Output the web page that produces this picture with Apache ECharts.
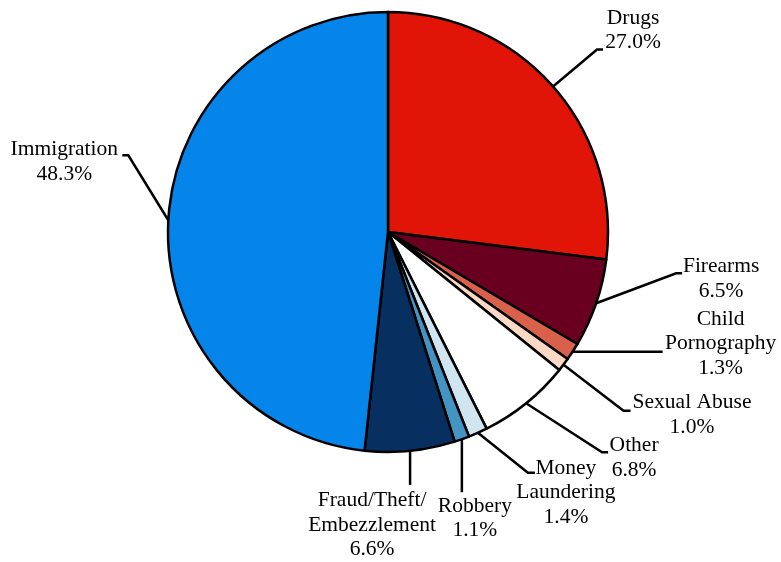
<!DOCTYPE html>
<html>
<head>
<meta charset="utf-8">
<script src="https://cdn.jsdelivr.net/npm/echarts@6/dist/echarts.min.js"></script>
<style>html,body{margin:0;padding:0;background:#fff}#c{width:781px;height:562px}</style>
</head>
<body>
<div id="c"></div>
<script>
// ---- data ----
const categories = ['Drugs', 'Firearms', 'Child\nPornography', 'Sexual Abuse', 'Other',
  'Money\nLaundering', 'Robbery', 'Fraud/Theft/\nEmbezzlement', 'Immigration'];
const shares = [27.0, 6.5, 1.3, 1.0, 6.8, 1.4, 1.1, 6.6, 48.3];

// ---- style ----
const sliceColors = ['#e01507', '#69001f', '#d9604b', '#fdd9c5', '#ffffff',
  '#d1e5f1', '#4393c3', '#072f5f', '#0584e9'];
// leader line: first segment vector from the slice edge, then horizontal run,
// then label centre offset from the line end
const guideSeg = [[44, -37], [80, -30], [0, 0], [60, 46], [76, 49], [50, 40], [0, 53], [0, 34], [-40, -65]];
const guideRun = [6, 6, 90, 7, 6, 7, 0, 0, -6];
const labelOffset = [[30, -19], [39, 5.5], [58, -8], [61.5, 4], [26, 5.5], [31, 20], [13, 26], [-38, 40], [-58, 6.5]];

const chart = echarts.init(document.getElementById('c'), null, {renderer: 'canvas'});
chart.setOption({
  backgroundColor: '#ffffff',
  animation: false,
  series: [{
    type: 'pie',
    center: [388, 232],
    radius: [0, 220],
    startAngle: 90,
    clockwise: true,
    avoidLabelOverlap: false,
    data: categories.map((c, i) => ({name: c, value: shares[i], itemStyle: {color: sliceColors[i]}})),
    itemStyle: {borderColor: '#000', borderWidth: 2.5},
    emphasis: {disabled: true},
    label: {
      show: true,
      position: 'outside',
      formatter: p => p.name + '\n' + p.value.toFixed(1) + '%',
      fontFamily: "'Liberation Serif', 'Times New Roman', serif",
      fontSize: 21.5,
      lineHeight: 24.5,
      color: '#000',
      width: 260,
      overflow: 'none'
    },
    labelLine: {show: true, length: 10, length2: 10, lineStyle: {color: '#000', width: 2.5}},
    labelLayout: function (p) {
      const i = p.dataIndex;
      const pts = p.labelLinePoints;
      if (!pts) return {};
      const p0 = pts[0];
      const p1 = [p0[0] + guideSeg[i][0], p0[1] + guideSeg[i][1]];
      const p2 = [p1[0] + guideRun[i], p1[1]];
      return {
        x: p2[0] + labelOffset[i][0],
        y: p2[1] + labelOffset[i][1],
        align: 'center',
        verticalAlign: 'middle',
        labelLinePoints: [p0, p1, p2]
      };
    }
  }]
});
</script>
</body>
</html>
